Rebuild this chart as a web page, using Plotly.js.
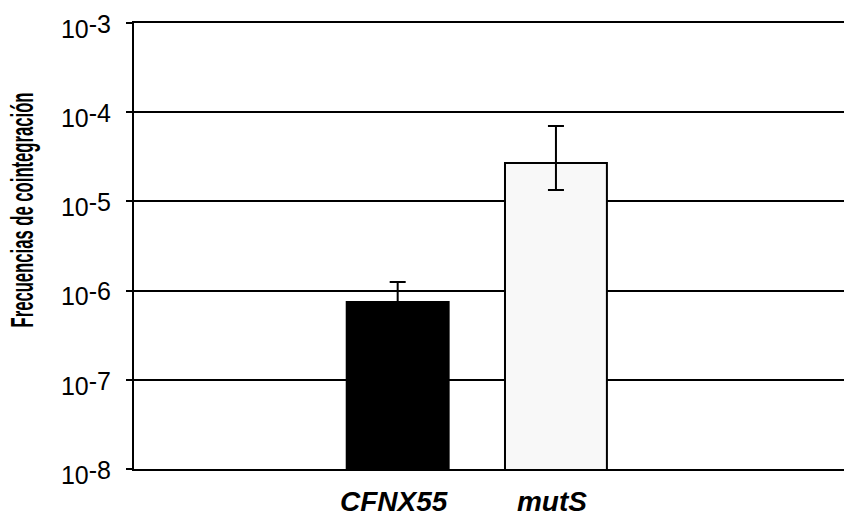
<!DOCTYPE html>
<html>
<head>
<meta charset="utf-8">
<script src="https://cdn.plot.ly/plotly-3.0.1.min.js"></script>
<style>
  html, body { margin: 0; padding: 0; background: #ffffff; }
  #chart { width: 844px; height: 516px; }
</style>
</head>
<body>
<div id="chart"></div>
<script>
// Cointegration frequencies per strain (log scale)
const strains = ['CFNX55', 'mutS'];
const frequencies = [7.45e-7, 2.69e-5];
const errUpper = [5.0e-7, 4.3e-5];
const errLower = [2.0e-7, 1.35e-5];
const barColors = ['#000000', '#f8f8f8'];

// Decade ticks from 10^-8 to 10^-3
const tickExponents = [-8, -7, -6, -5, -4, -3];
const tickValues = tickExponents.map(e => Math.pow(10, e));
const tickLabels = tickExponents.map(e => '10<sup>-' + Math.abs(e) + '</sup>');

const yTitle = 'Frecuencias de cointegración';

const trace = {
  type: 'bar',
  x: strains,
  y: frequencies,
  width: 0.644,
  marker: { color: barColors, line: { color: '#000000', width: 2 } },
  error_y: {
    type: 'data',
    array: errUpper,
    arrayminus: errLower,
    symmetric: false,
    color: '#000000',
    thickness: 2,
    width: 8
  },
  hoverinfo: 'x+y'
};

const layout = {
  width: 844,
  height: 516,
  margin: { l: 134, r: 0, t: 23, b: 47 },
  paper_bgcolor: '#ffffff',
  plot_bgcolor: '#ffffff',
  showlegend: false,
  xaxis: {
    type: 'category',
    range: [-1.666, 2.82],
    showgrid: false,
    showline: true,
    mirror: true,
    linecolor: '#000000',
    linewidth: 2,
    ticks: '',
    ticklabelstandoff: 6,
    ticklabelshift: -4,
    tickfont: { family: 'Liberation Sans, Arial, sans-serif', size: 28, weight: 'bold', style: 'italic', color: '#000000' },
    fixedrange: true
  },
  yaxis: {
    type: 'log',
    range: [-8, -3],
    tickvals: tickValues,
    ticktext: tickLabels,
    showgrid: true,
    gridcolor: '#000000',
    gridwidth: 2,
    showline: true,
    linecolor: '#000000',
    linewidth: 2,
    ticks: 'outside',
    ticklen: 6,
    tickwidth: 2,
    tickcolor: '#000000',
    ticklabelstandoff: 10,
    ticklabelshift: 6,
    tickfont: { family: 'Liberation Sans, Arial, sans-serif', size: 25, color: '#000000' },
    title: {
      text: yTitle,
      font: { family: 'Liberation Sans, Arial, sans-serif', size: 31, weight: 'bold', color: '#000000' },
      standoff: 20
    },
    zeroline: false,
    fixedrange: true
  }
};

Plotly.newPlot('chart', [trace], layout, { displayModeBar: false, staticPlot: true }).then(gd => {
  // Exponents: full size, raised only slightly above the base digits
  gd.querySelectorAll('.ytick text tspan').forEach(ts => {
    if (ts.getAttribute('dy')) {
      ts.setAttribute('dy', '-5');
      ts.style.fontSize = '25px';
    }
  });

  // Condensed vertical axis title: squeeze along its length
  const t = gd.querySelector('.ytitle');
  if (t) {
    const cx = +t.getAttribute('x');
    const cy = +t.getAttribute('y');
    const len = t.getComputedTextLength();
    const s = 235 / len;
    const dx = 33 - cx;
    const dy = 210 - cy;
    t.setAttribute('transform',
      `translate(${dx},${dy}) rotate(-90,${cx},${cy}) translate(${cx},${cy}) scale(${s},1) translate(${-cx},${-cy})`);
  }
});
</script>
</body>
</html>
